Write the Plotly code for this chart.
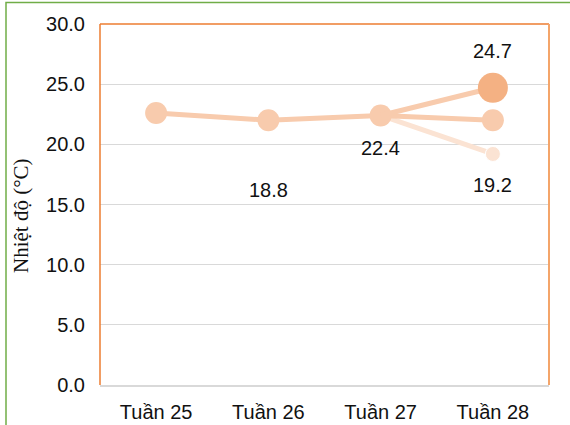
import plotly.graph_objects as go

weeks = ["Tuần 25", "Tuần 26", "Tuần 27", "Tuần 28"]
main_temp = [22.6, 22.0, 22.4, 22.0]
upper_temp = [None, None, 22.4, 24.7]
lower_temp = [None, None, 22.4, 19.2]

# value labels: (text, category, anchor value, vertical shift in px)
label_texts = ["24.7", "19.2", "22.4", "18.8"]
label_weeks = ["Tuần 28", "Tuần 28", "Tuần 27", "Tuần 26"]
label_anchor = [24.7, 19.2, 22.4, 22.0]
label_shift = [37, -31, -33, -70]

yticks = [0, 5, 10, 15, 20, 25, 30]
y_title = "Nhiệt độ (°C)"

c_main = "#F8CBAD"
c_up = "#F4B183"
c_low = "#FBE3D3"

fig = go.Figure()
fig.add_trace(go.Scatter(x=weeks, y=lower_temp, mode="lines+markers",
                         line=dict(color=c_low, width=5),
                         marker=dict(size=[0, 0, 0, 15], color=c_low, opacity=1),
                         hoverinfo="skip", showlegend=False))
fig.add_trace(go.Scatter(x=weeks, y=main_temp, mode="lines+markers",
                         line=dict(color=c_main, width=5),
                         marker=dict(size=22, color=c_main, opacity=1),
                         hoverinfo="skip", showlegend=False))
fig.add_trace(go.Scatter(x=weeks, y=upper_temp, mode="lines+markers",
                         line=dict(color=c_main, width=5),
                         marker=dict(size=[0, 0, 0, 30], color=c_up, opacity=1,
                                     line=dict(width=0)),
                         hoverinfo="skip", showlegend=False))

for t, w, v, s in zip(label_texts, label_weeks, label_anchor, label_shift):
    fig.add_annotation(x=w, y=v, text=t, showarrow=False, yshift=s,
                       font=dict(family="Liberation Sans, Arial", size=20, color="#111111"))

# y-axis title placed as rotated annotation
fig.add_annotation(xref="paper", yref="paper", x=(21 - 100) / 449, y=(385 - 216) / 361,
                   text=y_title, textangle=-90, showarrow=False,
                   xanchor="center", yanchor="middle",
                   font=dict(family="Liberation Serif, Times New Roman", size=21, color="#111111"))

# plot-area border (left, top, right) in orange
fig.add_shape(type="line", xref="paper", yref="paper", x0=0, x1=0, y0=0, y1=1,
              line=dict(color="#ED7D31", width=1.5))
fig.add_shape(type="line", xref="paper", yref="paper", x0=0, x1=1, y0=1, y1=1,
              line=dict(color="#ED7D31", width=1.5))
fig.add_shape(type="line", xref="paper", yref="paper", x0=1, x1=1, y0=0, y1=1,
              line=dict(color="#F4A56A", width=2))
# outer green frame
fig.add_shape(type="rect", xref="paper", yref="paper",
              x0=(6 - 100) / 449, x1=1.2, y0=-0.3, y1=1 + (24 - 2.5) / 361,
              line=dict(color="#70AD47", width=1.5), layer="below")

fig.update_layout(
    width=570, height=425,
    margin=dict(l=100, r=21, t=24, b=40, autoexpand=False),
    paper_bgcolor="white", plot_bgcolor="white",
    font=dict(family="Liberation Sans, Arial", size=20, color="#111111"),
    xaxis=dict(range=[-0.5, 3.5], showgrid=False, showline=True, linecolor="#D9D9D9",
               linewidth=1.5, ticks="", ticklabelstandoff=8, zeroline=False,
               automargin=False),
    yaxis=dict(range=[0, 30], tickvals=yticks, tickformat=".1f",
               showgrid=True, gridcolor="#D9D9D9", gridwidth=1, zeroline=False,
               showline=False, ticks="", ticklabelstandoff=14, automargin=False),
)

fig.write_html("out.html", config={"displayModeBar": False},
               post_script="document.body.style.margin='0';document.body.style.overflow='hidden';")
